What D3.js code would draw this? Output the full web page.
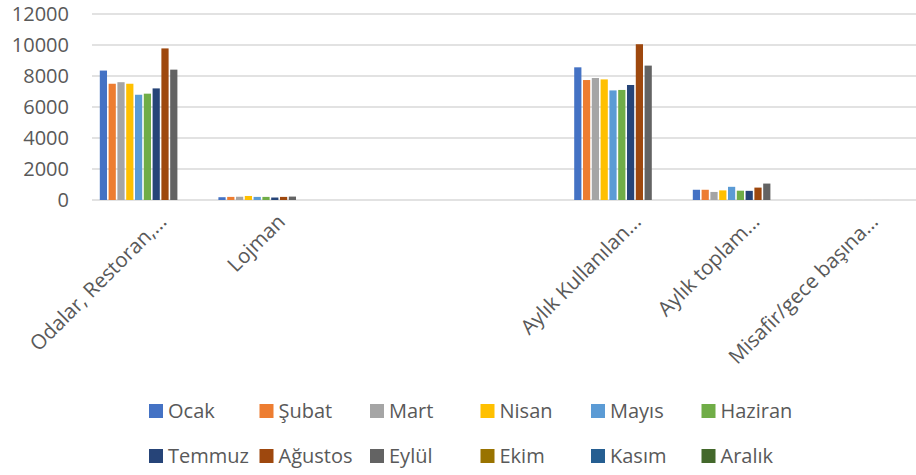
<!DOCTYPE html>
<html>
<head>
<meta charset="utf-8">
<script src="https://cdn.jsdelivr.net/npm/d3@7"></script>
<style>
  body { margin: 0; background: #fff; }
  text { font-family: "Open Sans", sans-serif; fill: #595959; }
</style>
</head>
<body>
<script>
// Categories (two of them have no label in the original)
const categories = ["Odalar, Restoran,...", "Lojman", "", "", "Aylık Kullanılan...", "Aylık toplam...", "Misafir/gece başına..."];

const months = ["Ocak", "Şubat", "Mart", "Nisan", "Mayıs", "Haziran", "Temmuz", "Ağustos", "Eylül", "Ekim", "Kasım", "Aralık"];

const monthColors = ["#4472C4", "#ED7D31", "#A5A5A5", "#FFC000", "#5B9BD5", "#70AD47", "#264478", "#9E480E", "#636363", "#997300", "#255E91", "#43682B"];

// values per month, one entry per category (null = no data)
const ocak    = [8350, 180, null, null, 8560, 660, 1];
const subat   = [7500, 200, null, null, 7740, 660, 1];
const mart    = [7600, 210, null, null, 7870, 520, 1];
const nisan   = [7500, 260, null, null, 7780, 620, 1];
const mayis   = [6790, 200, null, null, 7070, 850, 1];
const haziran = [6860, 200, null, null, 7100, 600, 1];
const temmuz  = [7200, 160, null, null, 7420, 590, 1];
const agustos = [9780, 200, null, null, 10050, 800, 1];
const eylul   = [8410, 220, null, null, 8670, 1060, 1];
const ekim    = [null, null, null, null, null, null, null];
const kasim   = [null, null, null, null, null, null, null];
const aralik  = [null, null, null, null, null, null, null];

const series = [ocak, subat, mart, nisan, mayis, haziran, temmuz, agustos, eylul, ekim, kasim, aralik];

const yTicks = [0, 2000, 4000, 6000, 8000, 10000, 12000];

let width = 916,
    height = 475;

let margin = { top: 14, bottom: 275, left: 92, right: 0 };

let svg = d3.select('body')
            .append('svg')
            .attr('width', width)
            .attr('height', height);

// scales
const x0 = d3.scaleBand()
             .domain(d3.range(categories.length))
             .range([92.5, 92.5 + 7 * 118.6])
             .paddingInner(0)
             .paddingOuter(0);

const x1 = d3.scaleBand()
             .domain(d3.range(months.length))
             .range([0, x0.bandwidth()])
             .paddingInner(0.18)
             .paddingOuter(0.83);

const yScale = d3.scaleLinear()
                 .domain([0, 12000])
                 .range([200, 14]);

const color = d3.scaleOrdinal()
                .domain(months)
                .range(monthColors);

// gridlines
svg.append('g')
   .selectAll('line')
   .data(yTicks)
   .enter()
   .append('line')
   .attr('x1', margin.left)
   .attr('x2', width)
   .attr('y1', d => yScale(d))
   .attr('y2', d => yScale(d))
   .attr('stroke', '#d9d9d9')
   .attr('stroke-width', 1.5);

// y axis labels
let yAxis = svg.append('g')
               .attr('transform', 'translate(69, 0)')
               .call(d3.axisLeft(yScale).tickValues(yTicks).tickSize(0).tickPadding(0).tickFormat(d3.format('d')));
yAxis.select('.domain').remove();
yAxis.selectAll('text')
     .style('font-size', '20px')
     .style('font-family', '"Open Sans", sans-serif')
     .attr('fill', '#595959');

// bars
const flat = [];
series.forEach((vals, m) => {
    vals.forEach((v, c) => {
        if (v !== null) flat.push({ cat: c, month: m, value: v });
    });
});

svg.append('g')
   .selectAll('rect')
   .data(flat)
   .enter()
   .append('rect')
   .attr('x', d => x0(d.cat) + x1(d.month))
   .attr('y', d => yScale(d.value))
   .attr('width', x1.bandwidth())
   .attr('height', d => yScale(0) - yScale(d.value))
   .attr('fill', d => color(months[d.month]));

// category labels, rotated
svg.append('g')
   .selectAll('text')
   .data(categories)
   .enter()
   .append('text')
   .attr('transform', (d, i) => `translate(${x0(i) + x0.bandwidth() / 2 + 16}, 223) rotate(-45)`)
   .attr('text-anchor', 'end')
   .style('font-size', '20.5px')
   .text(d => d);

// legend
const legend = svg.selectAll('.legend')
    .data(months)
    .enter().append('g')
    .attr('class', 'legend')
    .attr('transform', (d, i) => `translate(${149 + (i % 6) * 110.5}, ${404 + Math.floor(i / 6) * 45})`);

legend.append('rect')
      .attr('width', 14)
      .attr('height', 14)
      .attr('fill', d => color(d));

legend.append('text')
      .attr('x', 19)
      .attr('y', 14)
      .style('font-size', '20px')
      .text(d => d);
</script>
</body>
</html>
